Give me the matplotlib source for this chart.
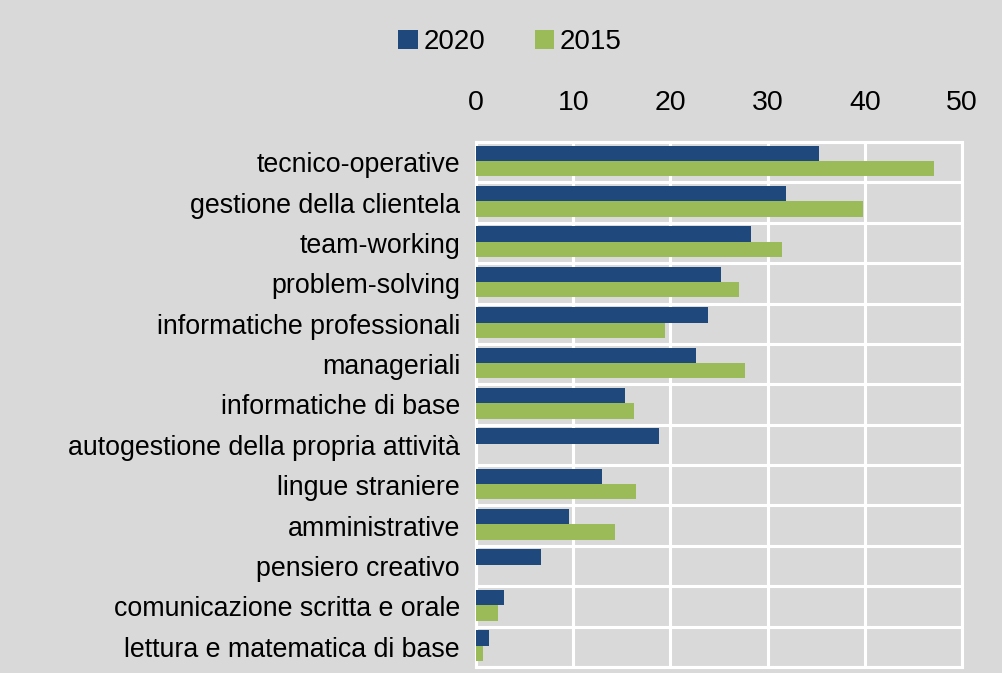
import matplotlib.pyplot as plt
import numpy as np

categorie = ["tecnico-operative", "gestione della clientela", "team-working",
             "problem-solving", "informatiche professionali", "manageriali",
             "informatiche di base", "autogestione della propria attività",
             "lingue straniere", "amministrative", "pensiero creativo",
             "comunicazione scritta e orale", "lettura e matematica di base"]
valori_2020 = [35.3, 31.9, 28.3, 25.2, 23.9, 22.6, 15.3, 18.8, 13.0, 9.6, 6.7, 2.9, 1.3]
valori_2015 = [47.1, 39.8, 31.5, 27.1, 19.4, 27.7, 16.3, 0, 16.5, 14.3, 0, 2.3, 0.7]

plt.rcParams["font.family"] = ["Liberation Sans", "DejaVu Sans"]

sfondo = "#d9d9d9"
fig = plt.figure(figsize=(10.02, 6.73), dpi=100, facecolor=sfondo)
ax = fig.add_axes([476 / 1002, 1 - 667 / 673, (962 - 476) / 1002, (667 - 142) / 673])
ax.set_facecolor(sfondo)

y = np.arange(len(categorie))
h = 0.38
ax.barh(y - 0.22, valori_2020, height=h, color="#1f497d", label="2020", zorder=3)
ax.barh(y + 0.16, valori_2015, height=h, color="#9bbb59", label="2015", zorder=3)

ax.set_xlim(0, 50)
ax.set_ylim(len(categorie) - 0.5, -0.5)
ax.set_xticks(range(0, 51, 10))
ax.xaxis.tick_top()
ax.set_yticks(y)
ax.set_yticklabels(categorie)
ax.set_yticks(np.arange(len(categorie) + 1) - 0.5, minor=True)
ax.tick_params(axis="both", which="both", length=0)
ax.tick_params(axis="y", pad=11.5, labelsize=19.3)
ax.tick_params(axis="x", pad=19, labelsize=20.5)
ax.grid(True, axis="x", color="white", linewidth=2.2, zorder=1)
ax.grid(True, axis="y", which="minor", color="white", linewidth=2.2, zorder=1)
ax.grid(False, axis="y", which="major")
for s in ax.spines.values():
    s.set_color("white")
    s.set_linewidth(2.2)

fig.legend(loc="center", bbox_to_anchor=(510 / 1002, 1 - 42 / 673), ncol=2, frameon=False,
           fontsize=20, handlelength=0.7, handleheight=0.7, handletextpad=0.2,
           columnspacing=1.8)

fig.savefig("out.png", dpi=100, facecolor=sfondo)
